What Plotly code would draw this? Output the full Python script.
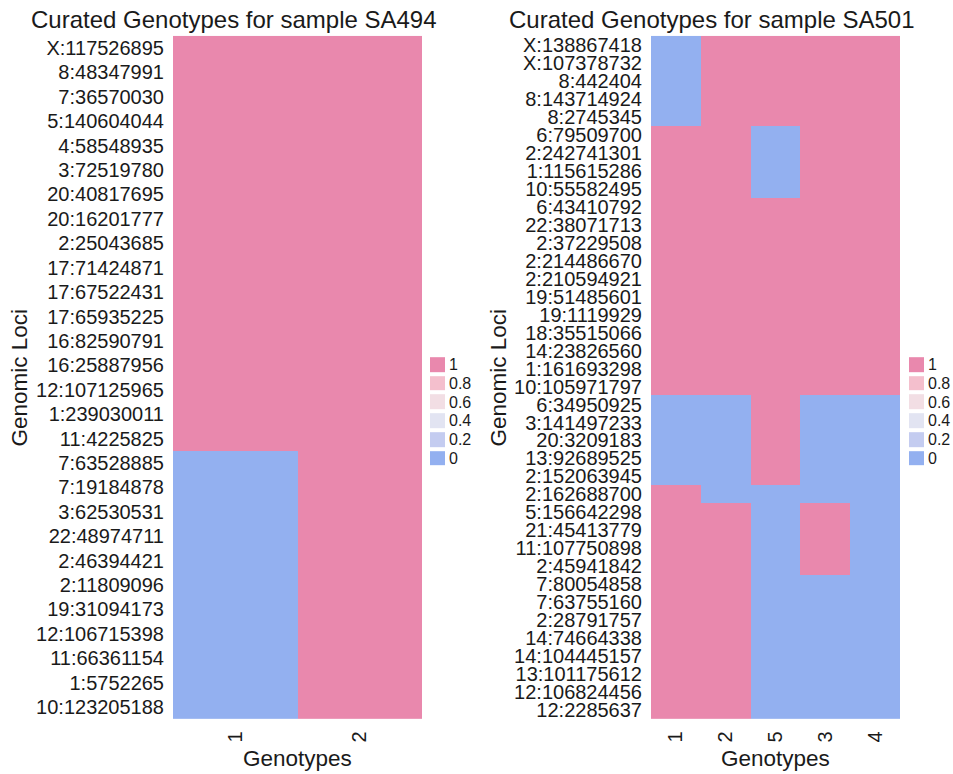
import plotly.graph_objects as go

# ---- data -------------------------------------------------------------
loci_sa494 = [
    "X:117526895", "8:48347991", "7:36570030", "5:140604044", "4:58548935",
    "3:72519780", "20:40817695", "20:16201777", "2:25043685", "17:71424871",
    "17:67522431", "17:65935225", "16:82590791", "16:25887956", "12:107125965",
    "1:239030011", "11:4225825", "7:63528885", "7:19184878", "3:62530531",
    "22:48974711", "2:46394421", "2:11809096", "19:31094173", "12:106715398",
    "11:66361154", "1:5752265", "10:123205188",
]
genotypes_sa494 = ["1", "2"]
calls_sa494 = [
    [1, 1], [1, 1], [1, 1], [1, 1], [1, 1], [1, 1], [1, 1], [1, 1], [1, 1],
    [1, 1], [1, 1], [1, 1], [1, 1], [1, 1], [1, 1], [1, 1], [1, 1],
    [0, 1], [0, 1], [0, 1], [0, 1], [0, 1], [0, 1], [0, 1], [0, 1], [0, 1],
    [0, 1], [0, 1],
]

loci_sa501 = [
    "X:138867418", "X:107378732", "8:442404", "8:143714924", "8:2745345",
    "6:79509700", "2:242741301", "1:115615286", "10:55582495", "6:43410792",
    "22:38071713", "2:37229508", "2:214486670", "2:210594921", "19:51485601",
    "19:1119929", "18:35515066", "14:23826560", "1:161693298", "10:105971797",
    "6:34950925", "3:141497233", "20:3209183", "13:92689525", "2:152063945",
    "2:162688700", "5:156642298", "21:45413779", "11:107750898", "2:45941842",
    "7:80054858", "7:63755160", "2:28791757", "14:74664338", "14:104445157",
    "13:101175612", "12:106824456", "12:2285637",
]
genotypes_sa501 = ["1", "2", "5", "3", "4"]
calls_sa501 = [
    [0, 1, 1, 1, 1], [0, 1, 1, 1, 1], [0, 1, 1, 1, 1], [0, 1, 1, 1, 1],
    [0, 1, 1, 1, 1],
    [1, 1, 0, 1, 1], [1, 1, 0, 1, 1], [1, 1, 0, 1, 1], [1, 1, 0, 1, 1],
    [1, 1, 1, 1, 1], [1, 1, 1, 1, 1], [1, 1, 1, 1, 1], [1, 1, 1, 1, 1],
    [1, 1, 1, 1, 1], [1, 1, 1, 1, 1], [1, 1, 1, 1, 1], [1, 1, 1, 1, 1],
    [1, 1, 1, 1, 1], [1, 1, 1, 1, 1], [1, 1, 1, 1, 1],
    [0, 0, 1, 0, 0], [0, 0, 1, 0, 0], [0, 0, 1, 0, 0], [0, 0, 1, 0, 0],
    [0, 0, 1, 0, 0],
    [1, 0, 0, 0, 0],
    [1, 1, 0, 1, 0], [1, 1, 0, 1, 0], [1, 1, 0, 1, 0], [1, 1, 0, 1, 0],
    [1, 1, 0, 0, 0], [1, 1, 0, 0, 0], [1, 1, 0, 0, 0], [1, 1, 0, 0, 0],
    [1, 1, 0, 0, 0], [1, 1, 0, 0, 0], [1, 1, 0, 0, 0], [1, 1, 0, 0, 0],
]

legend_labels = ["1", "0.8", "0.6", "0.4", "0.2", "0"]
legend_values = [1, 0.8, 0.6, 0.4, 0.2, 0]

# ---- styling ----------------------------------------------------------
W, H = 953, 774
FONT = "Liberation Sans, Arial, sans-serif"
colorscale = [
    [0.0, "#93B0F0"],
    [0.2, "#C4CCF0"],
    [0.4, "#E2E4F2"],
    [0.6, "#F2DEE4"],
    [0.8, "#F4BFCD"],
    [1.0, "#E988AD"],
]


def px_x(p):
    return p / W


def px_y(p):
    return 1 - p / H


fig = go.Figure()

fig.add_trace(go.Heatmap(
    z=calls_sa494, x=genotypes_sa494, y=loci_sa494,
    colorscale=colorscale, zmin=0, zmax=1, showscale=False,
    xaxis="x", yaxis="y",
))
fig.add_trace(go.Heatmap(
    z=calls_sa501, x=genotypes_sa501, y=loci_sa501,
    colorscale=colorscale, zmin=0, zmax=1, showscale=False,
    xaxis="x2", yaxis="y2",
))
# discrete legend keys for each panel
for xa, ya in (("x3", "y3"), ("x4", "y4")):
    fig.add_trace(go.Heatmap(
        z=[[v] for v in legend_values], x=["key"], y=legend_labels,
        colorscale=colorscale, zmin=0, zmax=1, showscale=False, ygap=4,
        xaxis=xa, yaxis=ya, hoverinfo="skip",
    ))

tick_font = dict(family=FONT, size=20, color="#1a1a1a")
heat_top, heat_bot = 34, 721

common_x = dict(type="category", showgrid=False, zeroline=False, showline=False,
                ticks="", tickangle=-90, tickfont=tick_font, ticklabelstandoff=7)
common_y = dict(type="category", showgrid=False, zeroline=False, showline=False,
                ticks="", autorange="reversed", tickfont=tick_font,
                ticklabelstandoff=8)

leg_x = dict(showgrid=False, zeroline=False, showline=False, ticks="",
             showticklabels=False)
leg_y = dict(type="category", showgrid=False, zeroline=False, showline=False,
             ticks="", autorange="reversed", side="right",
             tickmode="array", tickvals=legend_labels, ticktext=legend_labels,
             tickfont=dict(family=FONT, size=16, color="#1a1a1a"),
             ticklabelstandoff=3)

leg_top, leg_bot = 355, 468

fig.update_layout(
    width=W, height=H,
    margin=dict(l=0, r=0, t=0, b=0),
    paper_bgcolor="white", plot_bgcolor="white",
    font=dict(family=FONT, color="#1a1a1a"),
    xaxis=dict(domain=[px_x(173), px_x(422)], anchor="y", **common_x),
    yaxis=dict(domain=[px_y(heat_bot), px_y(heat_top)], anchor="x",
               tickmode="array", tickvals=loci_sa494, ticktext=loci_sa494,
               **common_y),
    xaxis2=dict(domain=[px_x(651), px_x(900)], anchor="y2", **common_x),
    yaxis2=dict(domain=[px_y(heat_bot), px_y(heat_top)], anchor="x2",
                tickmode="array", tickvals=loci_sa501, ticktext=loci_sa501,
                **common_y),
    xaxis3=dict(domain=[px_x(430), px_x(445)], anchor="y3", **leg_x),
    yaxis3=dict(domain=[px_y(leg_bot), px_y(leg_top)], anchor="x3", **leg_y),
    xaxis4=dict(domain=[px_x(909), px_x(924)], anchor="y4", **leg_x),
    yaxis4=dict(domain=[px_y(leg_bot), px_y(leg_top)], anchor="x4", **leg_y),
)

title_font = dict(family=FONT, size=24, color="#1a1a1a")
axis_title_font = dict(family=FONT, size=22.5, color="#1a1a1a")
annotations = [
    dict(text="Curated Genotypes for sample SA494", x=px_x(234), y=px_y(18),
         font=title_font),
    dict(text="Curated Genotypes for sample SA501", x=px_x(712), y=px_y(18),
         font=title_font),
    dict(text="Genomic Loci", x=px_x(20), y=px_y(377.5), textangle=-90,
         font=axis_title_font),
    dict(text="Genomic Loci", x=px_x(499), y=px_y(377.5), textangle=-90,
         font=axis_title_font),
    dict(text="Genotypes", x=px_x(297.5), y=px_y(760), font=axis_title_font),
    dict(text="Genotypes", x=px_x(775.5), y=px_y(760), font=axis_title_font),
]
for a in annotations:
    a.update(xref="paper", yref="paper", xanchor="center", yanchor="middle",
             showarrow=False)
fig.update_layout(annotations=annotations)

fig.write_html("out.html")
